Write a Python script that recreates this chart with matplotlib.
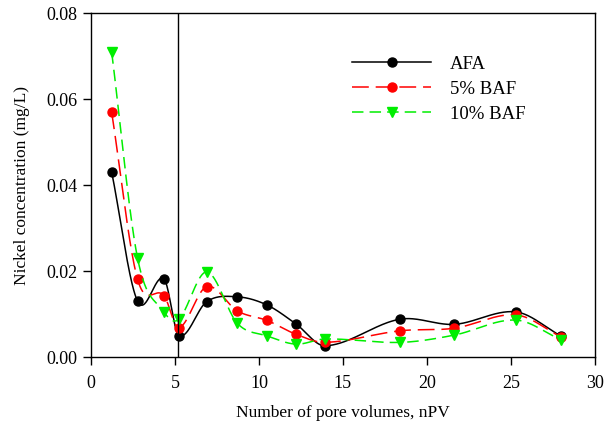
import numpy as np
import matplotlib
matplotlib.use("Agg")
import matplotlib.pyplot as plt

pore_volumes = [1.23, 2.77, 4.34, 5.23, 6.89, 8.72, 10.48, 12.2, 13.95, 18.4, 21.63, 25.29, 27.97]
afa = [0.0430, 0.0130, 0.0182, 0.0050, 0.0129, 0.0140, 0.0121, 0.0077, 0.0026, 0.0088, 0.0076, 0.0105, 0.0049]
baf5 = [0.0569, 0.0181, 0.0143, 0.0068, 0.0164, 0.0107, 0.0085, 0.0053, 0.0034, 0.0061, 0.0067, 0.0098, 0.0047]
baf10 = [0.0709, 0.0230, 0.0105, 0.0088, 0.0198, 0.0078, 0.0049, 0.0030, 0.0042, 0.0034, 0.0051, 0.0086, 0.0040]
series_names = ["AFA", "5% BAF", "10% BAF"]
vline_x = 5.2


def smooth_curve(x, y, n=60):
    """Catmull-Rom style Hermite spline through the data points (drawing only)."""
    x = np.asarray(x, float)
    y = np.asarray(y, float)
    m = len(x)
    t = np.zeros(m)
    t[0] = (y[1] - y[0]) / (x[1] - x[0])
    t[-1] = (y[-1] - y[-2]) / (x[-1] - x[-2])
    for i in range(1, m - 1):
        t[i] = (y[i + 1] - y[i - 1]) / (x[i + 1] - x[i - 1])
    xs, ys = [], []
    for i in range(m - 1):
        h = x[i + 1] - x[i]
        s = np.linspace(0, 1, n, endpoint=(i == m - 2))
        h00 = 2 * s ** 3 - 3 * s ** 2 + 1
        h10 = s ** 3 - 2 * s ** 2 + s
        h01 = -2 * s ** 3 + 3 * s ** 2
        h11 = s ** 3 - s ** 2
        xs.append(x[i] + s * h)
        ys.append(h00 * y[i] + h10 * h * t[i] + h01 * y[i + 1] + h11 * h * t[i + 1])
    return np.concatenate(xs), np.concatenate(ys)


plt.rcParams['font.family'] = ['Liberation Serif', 'DejaVu Serif']
fig = plt.figure(figsize=(6.07, 4.33), dpi=100)
ax = fig.add_axes([0.150, 0.1755, 0.830, 0.794])

LW = 1.1
styles = [
    dict(color="black", ls="-", marker="o", ms=6.5, dashes=None),
    dict(color="red", ls="--", marker="o", ms=6.5, dashes=(11, 4.5)),
    dict(color="#00ee00", ls="--", marker="v", ms=7, dashes=(7.5, 4)),
]
for yv, name, st in zip([afa, baf5, baf10], series_names, styles):
    sx, sy = smooth_curve(pore_volumes, yv)
    line, = ax.plot(sx, sy, color=st["color"], lw=LW, ls=st["ls"])
    if st["dashes"]:
        line.set_dashes(st["dashes"])
    ax.plot(pore_volumes, yv, ls="none", marker=st["marker"], ms=st["ms"],
            color=st["color"], mec=st["color"])
    proxy, = ax.plot([], [], color=st["color"], lw=LW, ls=st["ls"], marker=st["marker"],
                     ms=st["ms"], label=name)
    if st["dashes"]:
        proxy.set_dashes(st["dashes"])

ax.axvline(vline_x, color="black", lw=1)

ax.set_xlim(0, 30)
ax.set_ylim(0, 0.08)
ax.set_xticks(range(0, 31, 5))
ax.set_yticks([0, 0.02, 0.04, 0.06, 0.08])
ax.set_yticklabels(["0.00", "0.02", "0.04", "0.06", "0.08"])
ax.tick_params(direction="out", length=6, labelsize=13, width=1)
ax.tick_params(axis="x", pad=7)
for s in ax.spines.values():
    s.set_linewidth(1)
ax.set_xlabel("Number of pore volumes, nPV", fontsize=12.5, labelpad=9)
ax.set_ylabel("Nickel concentration (mg/L)", fontsize=12.5, labelpad=12)

ax.legend(loc="upper left", bbox_to_anchor=(0.485, 0.925), frameon=False, fontsize=13.5,
          handlelength=4.2, handletextpad=1.0, labelspacing=0.42)

fig.savefig("out.png", dpi=100)
